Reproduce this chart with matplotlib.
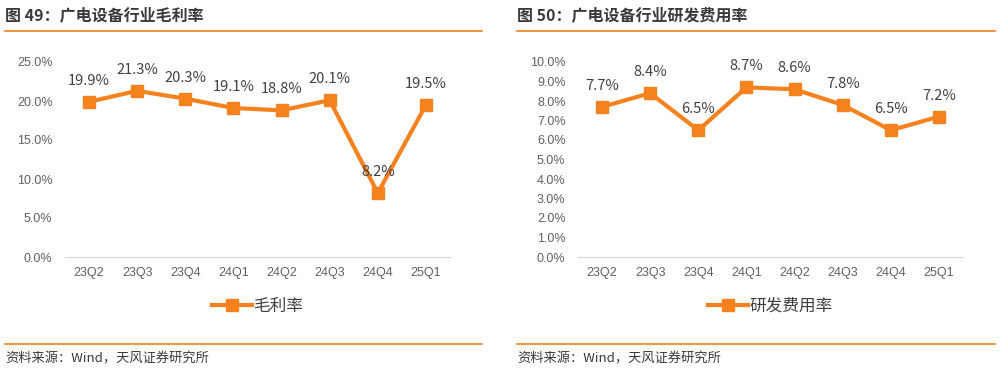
import matplotlib
matplotlib.use("Agg")
import matplotlib.pyplot as plt
from matplotlib.lines import Line2D
from matplotlib.ticker import FuncFormatter

plt.rcParams['font.family'] = ['Noto Sans CJK SC', 'DejaVu Sans']

# data
quarters = ["23Q2", "23Q3", "23Q4", "24Q1", "24Q2", "24Q3", "24Q4", "25Q1"]
gross_margin = [19.9, 21.3, 20.3, 19.1, 18.8, 20.1, 8.2, 19.5]
rd_ratio = [7.7, 8.4, 6.5, 8.7, 8.6, 7.8, 6.5, 7.2]

ORANGE = "#F5821F"
W, H = 1000, 372

fig = plt.figure(figsize=(W / 100, H / 100), dpi=100)


def fx(px):
    return px / W


def fy(py):
    return 1 - py / H


def panel(x0, x1, title, series, name, ymax, ystep, ax_left, ax_right):
    # title + rules
    fig.text(fx(x0), fy(15), title, fontsize=11.5, fontweight="bold",
             color="#3a3a3a", va="center", ha="left")
    fig.add_artist(Line2D([fx(x0), fx(x1)], [fy(31), fy(31)], color=ORANGE, lw=1.2))
    fig.add_artist(Line2D([fx(x0), fx(x1)], [fy(344), fy(344)], color=ORANGE, lw=1.2))
    fig.text(fx(x0), fy(359), "资料来源：Wind，天风证券研究所", fontsize=9.5,
             color="#3a3a3a", va="center", ha="left")

    top, bot = 62, 257
    ax = fig.add_axes([fx(ax_left), fy(bot), fx(ax_right - ax_left), (bot - top) / H])
    xs = list(range(len(quarters)))
    ax.plot(xs, series, color=ORANGE, lw=3, marker="s", ms=8, label=name)
    ax.set_xlim(-0.5, len(quarters) - 0.5)
    ax.set_ylim(0, ymax)
    ax.set_yticks([i * ystep for i in range(int(round(ymax / ystep)) + 1)])
    ax.yaxis.set_major_formatter(FuncFormatter(lambda v, p: f"{v:.1f}%"))
    ax.set_xticks(xs)
    ax.set_xticklabels(quarters)
    ax.tick_params(length=0, labelsize=9, colors="#606060", pad=7)
    ax.tick_params(axis="y", pad=9)
    for lab in ax.get_xticklabels() + ax.get_yticklabels():
        lab.set_family(["Liberation Sans", "DejaVu Sans"])
    for s in ["top", "right", "left"]:
        ax.spines[s].set_visible(False)
    ax.spines["bottom"].set_color("#d9d9d9")
    ax.patch.set_alpha(0)
    for x, v in zip(xs, series):
        ax.annotate(f"{v:.1f}%", (x, v), xytext=(0, 10), textcoords="offset points",
                    ha="center", va="bottom", fontsize=10.5, color="#404040")
    ax.legend(loc="center", bbox_to_anchor=(0.5, (bot - 306) / (bot - top)),
              frameon=False, fontsize=12, labelcolor="#404040",
              handlelength=2.4, handletextpad=0.1)
    return ax


panel(5, 482, "图 49：广电设备行业毛利率", gross_margin, "毛利率", 25, 5, 65, 450)
panel(517, 995, "图 50：广电设备行业研发费用率", rd_ratio, "研发费用率", 10, 1, 578, 963)

fig.savefig("out.png", dpi=100)
